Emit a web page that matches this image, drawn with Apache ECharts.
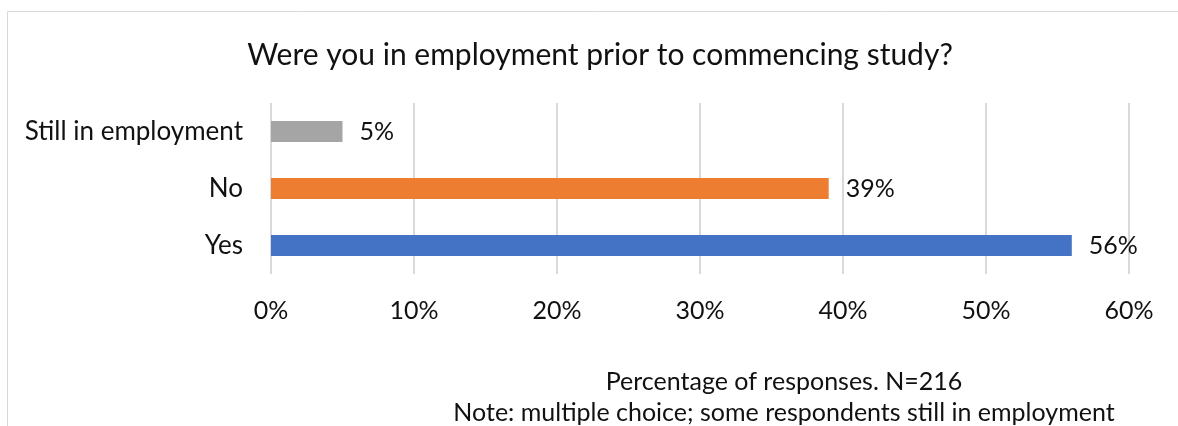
<!DOCTYPE html>
<html>
<head>
<meta charset="utf-8">
<script src="https://cdn.jsdelivr.net/npm/echarts@6/dist/echarts.min.js"></script>
<style>
  html, body { margin: 0; padding: 0; background: #fff; }
  #chart { width: 1178px; height: 426px; }
</style>
</head>
<body>
<div id="chart"></div>
<script>
// Survey answers, bottom to top on the category axis
const categories = ['Yes', 'No', 'Still in employment'];
const shares = [56, 39, 5];
const barColors = ['#4472C4', '#ED7D31', '#A5A5A5'];
const xTicks = [0, 10, 20, 30, 40, 50, 60];

const titleText = 'Were you in employment prior to commencing study?';
const noteLines = [
  'Percentage of responses. N=216',
  'Note: multiple choice; some respondents still in employment'
];

const FONT = 'Lato';
const TEXT = '#111';
const chart = echarts.init(document.getElementById('chart'));

chart.setOption({
  animation: false,
  backgroundColor: '#fff',
  title: {
    text: titleText,
    left: 595,
    textAlign: 'center',
    top: 35,
    textStyle: { fontFamily: FONT, fontSize: 30, fontWeight: 'normal', color: TEXT }
  },
  grid: { left: 271, right: 49, top: 103, height: 171, containLabel: false },
  xAxis: {
    type: 'value',
    min: xTicks[0],
    max: xTicks[xTicks.length - 1],
    interval: 10,
    axisLine: { show: false },
    axisTick: { show: false },
    splitLine: { show: true, lineStyle: { color: '#D9D9D9', width: 2 } },
    axisLabel: {
      margin: 24,
      formatter: v => v + '%',
      fontFamily: FONT, fontSize: 25, color: TEXT
    }
  },
  yAxis: {
    type: 'category',
    data: categories,
    axisLine: { show: false },
    axisTick: { show: false },
    axisLabel: { margin: 28, padding: [4, 0, 0, 0], fontFamily: FONT, fontSize: 26, color: TEXT }
  },
  series: [{
    type: 'bar',
    data: shares.map((v, i) => ({ value: v, itemStyle: { color: barColors[i] } })),
    barWidth: 21,
    label: {
      show: true,
      position: 'right',
      distance: 17,
      padding: [4, 0, 0, 0],
      formatter: p => p.value + '%',
      fontFamily: FONT, fontSize: 25, color: TEXT
    }
  }],
  graphic: [
    {
      type: 'rect',
      silent: true,
      shape: { x: 7.5, y: 11.5, width: 1300, height: 600 },
      style: { fill: 'none', stroke: '#D9D9D9', lineWidth: 1 }
    },
    {
      type: 'text',
      x: 784, y: 382,
      style: { text: noteLines[0], fontFamily: FONT, fontSize: 25, fill: TEXT, align: 'center', verticalAlign: 'middle' }
    },
    {
      type: 'text',
      x: 784, y: 413,
      style: { text: noteLines[1], fontFamily: FONT, fontSize: 25, fill: TEXT, align: 'center', verticalAlign: 'middle' }
    }
  ]
});
</script>
</body>
</html>
